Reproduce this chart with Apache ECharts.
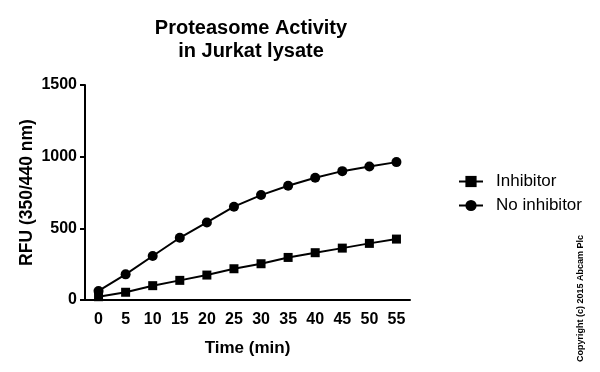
<!DOCTYPE html>
<html><head><meta charset="utf-8">
<script src="https://cdn.jsdelivr.net/npm/echarts@6/dist/echarts.min.js"></script>
<style>html,body{margin:0;padding:0;background:#fff}#c{width:600px;height:372px}</style>
</head><body><div id="c"></div>
<script>
var times = ['0','5','10','15','20','25','30','35','40','45','50','55'];
var inhibitor = [23,54,100,137,174,218,253,297,330,362,395,425];
var noInhibitor = [63,179,307,434,541,651,732,797,853,899,932,962];
var yTicks = [0,500,1000,1500];
var F = 'Arial, "Liberation Sans", sans-serif';
var chart = echarts.init(document.getElementById('c'));
chart.setOption({
  animation:false,
  backgroundColor:'#fff',
  title:{text:'Proteasome Activity\nin Jurkat lysate',left:246,textAlign:'center',top:12,
    textStyle:{fontFamily:F,fontWeight:'bold',fontSize:20,color:'#000',lineHeight:23}},
  legend:{orient:'vertical',left:453,top:168,itemGap:7,itemWidth:24,itemHeight:14,
    textStyle:{fontFamily:F,fontSize:17,color:'#000',padding:[0,0,0,8]},
    data:['Inhibitor','No inhibitor']},
  grid:{left:85,right:190,top:85,bottom:72},
  xAxis:{type:'category',data:times,boundaryGap:true,name:'Time (min)',nameLocation:'middle',nameGap:40,
    nameMoveOverlap:false,
    nameTextStyle:{fontFamily:F,fontWeight:'bold',fontSize:17,color:'#000'},
    axisLine:{lineStyle:{color:'#000',width:2}},
    axisTick:{alignWithLabel:true,length:5,lineStyle:{color:'#000',width:2}},
    axisLabel:{fontFamily:F,fontWeight:'bold',fontSize:16,color:'#000',margin:12,interval:0},
    splitLine:{show:false}},
  yAxis:{type:'value',min:0,max:1500,interval:500,name:'RFU (350/440 nm)',nameLocation:'middle',nameGap:49,
    nameMoveOverlap:false,
    nameTextStyle:{fontFamily:F,fontWeight:'bold',fontSize:17.5,color:'#000'},
    axisLine:{show:true,lineStyle:{color:'#000',width:2}},
    axisTick:{show:true,length:5,lineStyle:{color:'#000',width:2}},
    axisLabel:{fontFamily:F,fontWeight:'bold',fontSize:16,color:'#000',margin:8,
      formatter:function(v){return yTicks.indexOf(v)>=0?String(v):'';}},
    splitLine:{show:false}},
  series:[
    {name:'Inhibitor',type:'line',data:inhibitor,symbol:'rect',symbolSize:9,
      lineStyle:{color:'#000',width:2},itemStyle:{color:'#000'}},
    {name:'No inhibitor',type:'line',data:noInhibitor,symbol:'circle',symbolSize:10,
      lineStyle:{color:'#000',width:2},itemStyle:{color:'#000'}}
  ],
  graphic:[{type:'text',left:576,top:235,rotation:Math.PI/2,
    style:{text:'Copyright (c) 2015 Abcam Plc',font:'bold 9px Arial, "Liberation Sans", sans-serif',fill:'#000'}}]
});
</script></body></html>
